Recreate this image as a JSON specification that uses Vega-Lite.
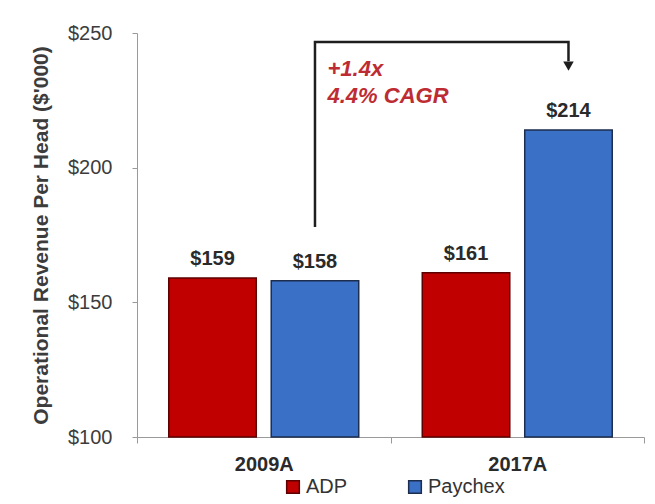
{
  "$schema": "https://vega.github.io/schema/vega-lite/v6.json",
  "width": 507,
  "height": 404,
  "autosize": "none",
  "padding": {"left": 137, "top": 33, "right": 11, "bottom": 67},
  "background": "white",
  "datasets": {
    "revenue": [
      {"year": "2009A", "company": "ADP", "v": 159},
      {"year": "2009A", "company": "Paychex", "v": 158},
      {"year": "2017A", "company": "ADP", "v": 161},
      {"year": "2017A", "company": "Paychex", "v": 214}
    ],
    "arrow": [
      {"year": "2009A", "company": "Paychex", "v": 178, "step": 1},
      {"year": "2009A", "company": "Paychex", "v": 246.7, "step": 2},
      {"year": "2017A", "company": "Paychex", "v": 246.7, "step": 3},
      {"year": "2017A", "company": "Paychex", "v": 239.5, "step": 4}
    ],
    "head": [
      {"year": "2017A", "company": "Paychex", "v": 237.7}
    ],
    "notes": [
      {"year": "2009A", "company": "Paychex", "v": 236.7, "note": "+1.4x"},
      {"year": "2009A", "company": "Paychex", "v": 226.5, "note": "4.4% CAGR"}
    ]
  },
  "encoding": {
    "x": {
      "field": "year",
      "type": "nominal",
      "scale": {"paddingInner": 0, "paddingOuter": 0},
      "axis": {
        "title": null,
        "labelAngle": 0,
        "tickBand": "extent",
        "tickSize": 6,
        "labelPadding": 11,
        "labelFontSize": 20,
        "labelFontWeight": "bold",
        "labelColor": "#2a2a2a",
        "domainColor": "#9a9a9a",
        "tickColor": "#9a9a9a"
      }
    },
    "xOffset": {
      "field": "company",
      "type": "nominal",
      "scale": {"domain": ["ADP", "Paychex"], "paddingInner": 0.146, "paddingOuter": 0.31}
    },
    "y": {
      "field": "v",
      "type": "quantitative",
      "scale": {"domain": [100, 250], "nice": false, "zero": false},
      "axis": {
        "title": "Operational Revenue Per Head ($'000)",
        "values": [100, 150, 200, 250],
        "format": "$d",
        "grid": false,
        "domainColor": "#9a9a9a",
        "tickColor": "#9a9a9a",
        "tickSize": 5,
        "labelPadding": 20,
        "labelFontSize": 20,
        "labelColor": "#3c3c3c",
        "titleFontSize": 21,
        "titleFontWeight": "bold",
        "titleColor": "#3c3c3c",
        "titlePadding": 16
      }
    }
  },
  "layer": [
    {
      "data": {"name": "revenue"},
      "mark": {"type": "bar", "strokeWidth": 1.5},
      "encoding": {
        "y2": {"datum": 100},
        "color": {
          "field": "company",
          "type": "nominal",
          "scale": {"domain": ["ADP", "Paychex"], "range": ["#C00000", "#3A71C6"]},
          "legend": {
            "orient": "none",
            "legendX": 146,
            "legendY": 444,
            "direction": "horizontal",
            "title": null,
            "symbolType": "square",
            "symbolSize": 160,
            "symbolStrokeWidth": 1.5,
            "labelFontSize": 20,
            "labelColor": "#333333",
            "labelOffset": 3,
            "columnPadding": 57
          }
        },
        "stroke": {
          "field": "company",
          "type": "nominal",
          "scale": {"domain": ["ADP", "Paychex"], "range": ["#5C0000", "#1C2D4E"]},
          "legend": {
            "orient": "none",
            "legendX": 146,
            "legendY": 444,
            "direction": "horizontal",
            "title": null
          }
        }
      }
    },
    {
      "data": {"name": "revenue"},
      "mark": {"type": "text", "dy": -19, "baseline": "middle", "fontSize": 20, "fontWeight": "bold", "color": "#2a2a2a"},
      "encoding": {
        "text": {"field": "v", "type": "quantitative", "format": "$d"}
      }
    },
    {
      "data": {"name": "arrow"},
      "mark": {"type": "line", "color": "#1e1e1e", "strokeWidth": 2.5, "strokeJoin": "miter"},
      "encoding": {
        "order": {"field": "step", "type": "quantitative"}
      }
    },
    {
      "data": {"name": "head"},
      "mark": {"type": "point", "shape": "triangle-down", "filled": true, "size": 110, "color": "#1e1e1e", "opacity": 1}
    },
    {
      "data": {"name": "notes"},
      "mark": {"type": "text", "align": "left", "dx": 12.5, "baseline": "middle", "fontSize": 22, "fontStyle": "italic", "fontWeight": "bold", "color": "#BE2C33"},
      "encoding": {
        "text": {"field": "note", "type": "nominal"}
      }
    }
  ],
  "config": {
    "font": "Liberation Sans",
    "view": {"stroke": null}
  }
}
